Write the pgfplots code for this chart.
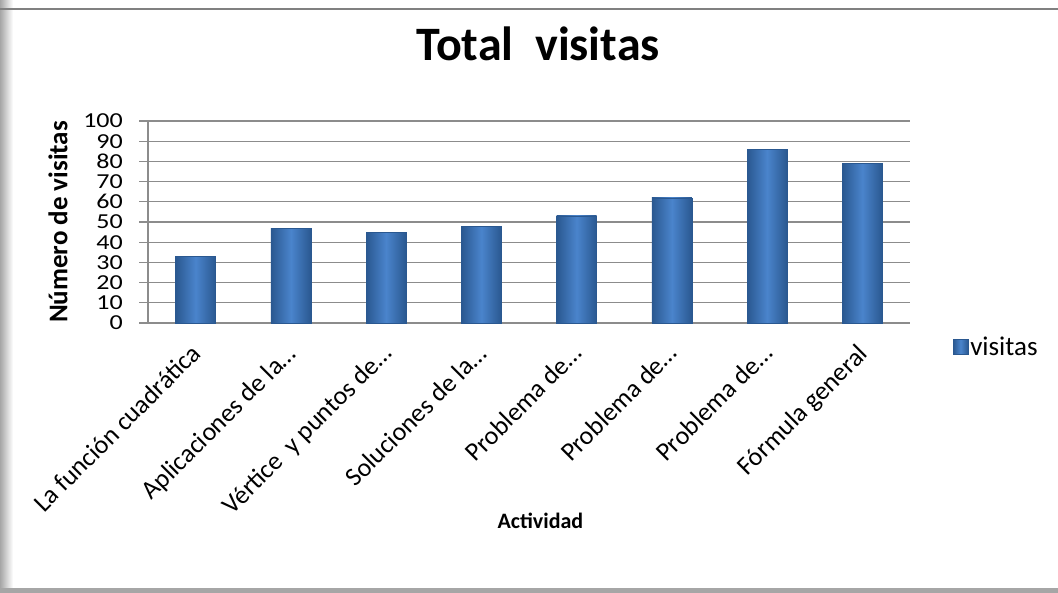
\documentclass[border=0pt]{standalone}
\usepackage{pgfplots}
\pgfplotsset{compat=1.18}
\usepackage{fontspec}
\setmainfont{Carlito}
\definecolor{bardark}{HTML}{2A5890}
\definecolor{barmid}{HTML}{4A84CC}
\definecolor{gridc}{HTML}{8C8C8C}
\pgfplotsset{onebar/.style={ybar, bar width=40pt, bar shift=0pt, draw=bardark, left color=bardark, right color=bardark, middle color=barmid, forget plot}}
\begin{document}
\begin{tikzpicture}
\useasboundingbox (0pt,0pt) rectangle (1058pt,593pt);
% frame
\shade[left color=gray!70, right color=white] (0pt,0pt) rectangle (13pt,593pt);
\fill[gray!70] (0pt,0pt) rectangle (1058pt,5pt);
\draw[gray, line width=1.5pt] (0pt,584pt) -- (1058pt,584pt);
\begin{axis}[
  at={(148pt,270pt)}, anchor=south west,
  scale only axis, width=762pt, height=202pt,
  ymin=0, ymax=100, ytick={0,10,...,100},
  xmin=-0.5, xmax=7.5,
  xtick={0,...,7},
  xticklabels={La función cuadrática,Aplicaciones de la\dots,Vértice\ \ y puntos de\dots,Soluciones de la\dots,Problema de\dots,Problema de\dots,Problema de\dots,Fórmula general},
  xtick style={draw=none},
  ytick align=outside, major tick length=9pt,
  ytick style={gridc, line width=1.2pt},
  ymajorgrids, grid style={gridc, line width=1.2pt},
  axis x line*=bottom, axis y line*=left,
  axis line style={gridc, line width=1.2pt},
  /pgf/number format/assume math mode=true,
  yticklabel={\scalebox{1}[0.82]{\pgfmathprintnumber{\tick}}},
  yticklabel style={font=\fontsize{26}{26}\selectfont, inner sep=0pt, xshift=-16pt},
  xticklabel style={font=\fontsize{26}{26}\selectfont, rotate=45, anchor=north east, xshift=-14.5pt, yshift=-6pt},
  title={Total\ \ visitas},
  title style={font=\fontsize{48}{48}\bfseries\selectfont, at={(axis description cs:0.512,1.35)}, anchor=center},
  xlabel={Actividad},
  xlabel style={font=\fontsize{22}{22}\bfseries\selectfont, at={(axis description cs:0.515,-0.98)}, anchor=center},
  ylabel={Número de visitas},
  ylabel style={font=\fontsize{27}{27}\bfseries\selectfont, at={(axis description cs:-0.118,0.5)}, anchor=center},
  legend style={at={(axis description cs:1.056,-0.12)}, anchor=west, draw=none, fill=none, font=\fontsize{27}{27}\selectfont, inner sep=0pt},
  clip=false,
]
\addplot[onebar] coordinates {(0,33)};
\addplot[onebar] coordinates {(1,47)};
\addplot[onebar] coordinates {(2,45)};
\addplot[onebar] coordinates {(3,48)};
\addplot[onebar] coordinates {(4,53)};
\addplot[onebar] coordinates {(5,62)};
\addplot[onebar] coordinates {(6,86)};
\addplot[onebar] coordinates {(7,79)};
\addlegendimage{legend image code/.code={\shade[left color=bardark, right color=bardark, middle color=barmid, draw=bardark] (0pt,-7pt) rectangle (15pt,8pt);}}
\addlegendentry{visitas}
\end{axis}
\end{tikzpicture}
\end{document}
